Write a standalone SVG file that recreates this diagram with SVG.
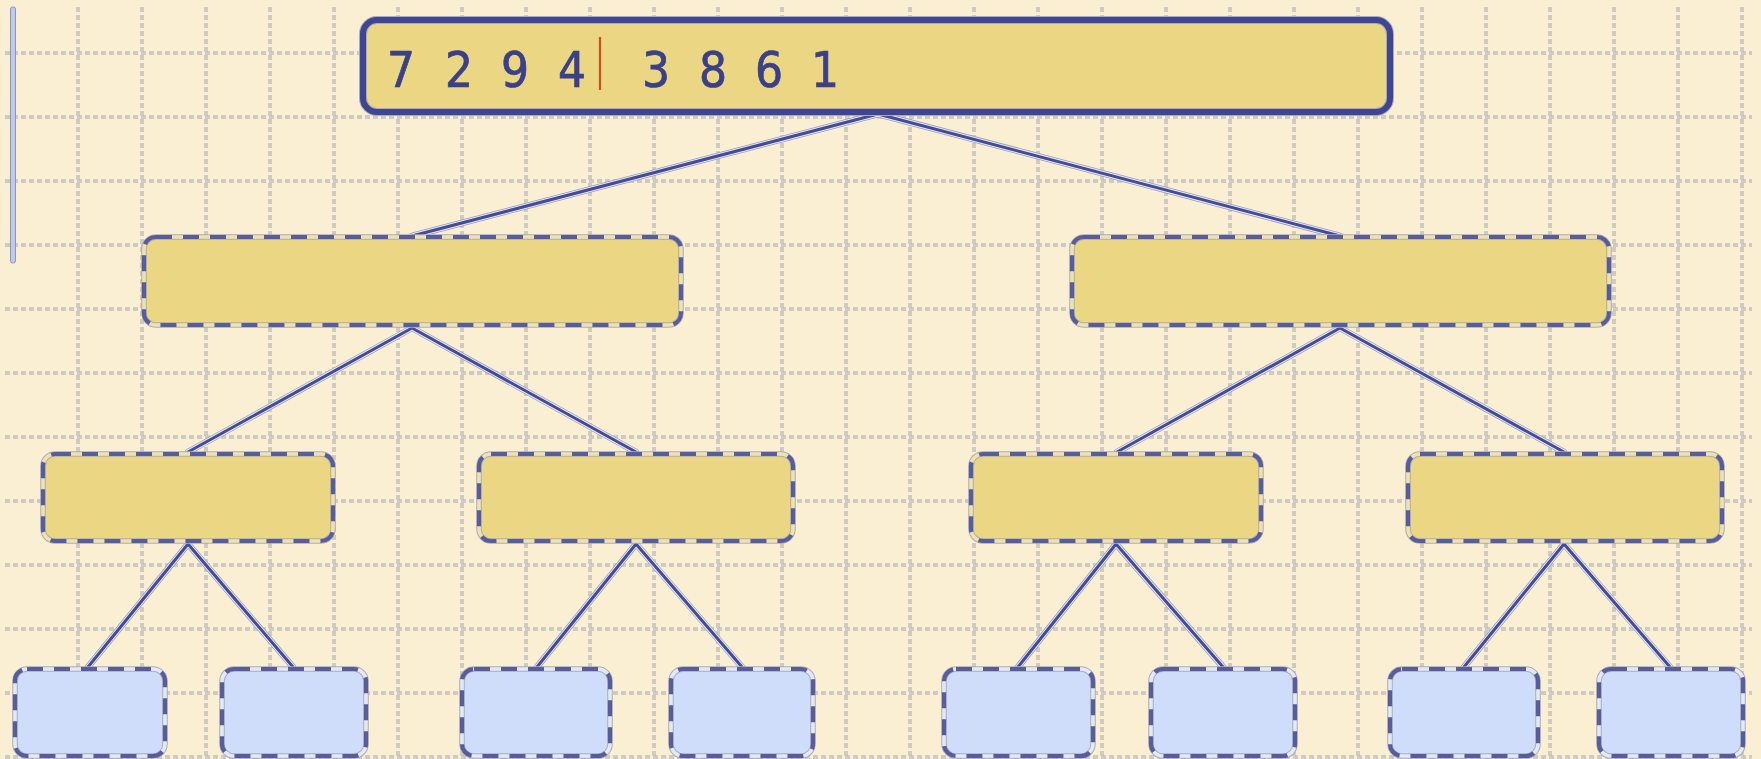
<svg xmlns="http://www.w3.org/2000/svg" width="1761" height="759" viewBox="0 0 1761 759">
<defs>
<style>
.gv{stroke:#a8a8a8;stroke-width:3;stroke-dasharray:5 3;fill:none}
.gi{stroke:#f2ede4;stroke-width:1;stroke-dasharray:5 3;fill:none}
.h1{stroke:#9a9cbc;stroke-width:6.5;fill:none;stroke-linecap:round}
.h2{stroke:#e4e8f8;stroke-width:5;fill:none;stroke-linecap:round}
.edge{stroke:#454b94;stroke-width:3;fill:none;stroke-linecap:round}
.nb1{stroke:#acacb6;stroke-width:5.5;fill:none}
.ny{stroke:#efe2ae;stroke-width:3.5;fill:none}
.nbb{stroke:#e2e9fb;stroke-width:3.5;fill:none}
.nd{stroke:#575c9c;stroke-width:4.2;stroke-dasharray:16 11;fill:none}
.y{fill:#ead683}
.b{fill:#cfdcfa}
.dig{font-family:"DejaVu Sans Condensed","DejaVu Sans",sans-serif;font-size:49px;fill:#3b4089;stroke:#3b4089;stroke-width:0.7;text-anchor:middle}
</style>
</defs>
<rect width="1761" height="759" fill="#faefd2"/>
<g id="grid">
<g class="gv">
<path d="M78 7V759M142 7V759M206 7V759M270 7V759M334 7V759M398 7V759M462 7V759M526 7V759M590 7V759M654 7V759M718 7V759M782 7V759M846 7V759M910 7V759M974 7V759M1038 7V759M1102 7V759M1166 7V759M1230 7V759M1294 7V759M1358 7V759M1422 7V759M1486 7V759M1550 7V759M1614 7V759M1678 7V759M1742 7V759"/>
<path d="M5 53H1752M5 117H1752M5 181H1752M5 245H1752M5 309H1752M5 373H1752M5 437H1752M5 501H1752M5 565H1752M5 629H1752M5 693H1752M5 757H1752"/>
</g>
<g class="gi">
<path d="M78 7V759M142 7V759M206 7V759M270 7V759M334 7V759M398 7V759M462 7V759M526 7V759M590 7V759M654 7V759M718 7V759M782 7V759M846 7V759M910 7V759M974 7V759M1038 7V759M1102 7V759M1166 7V759M1230 7V759M1294 7V759M1358 7V759M1422 7V759M1486 7V759M1550 7V759M1614 7V759M1678 7V759M1742 7V759"/>
<path d="M5 53H1752M5 117H1752M5 181H1752M5 245H1752M5 309H1752M5 373H1752M5 437H1752M5 501H1752M5 565H1752M5 629H1752M5 693H1752M5 757H1752"/>
</g>
<rect x="10.5" y="7" width="5" height="256" rx="2" fill="#bccaf4" stroke="#9094b0" stroke-width="1"/>
</g>
<g id="connectors">
<path class="h1" d="M878 114L412 236M878 114L1340 236M412 328L188 452M412 328L636 452M1340 328L1117 452M1340 328L1564 452M188 544L88 667M188 544L293 667M636 544L537 667M636 544L742 667M1116 544L1018 667M1116 544L1223 667M1564 544L1464 667M1564 544L1670 667"/>
<path class="h2" d="M878 114L412 236M878 114L1340 236M412 328L188 452M412 328L636 452M1340 328L1117 452M1340 328L1564 452M188 544L88 667M188 544L293 667M636 544L537 667M636 544L742 667M1116 544L1018 667M1116 544L1223 667M1564 544L1464 667M1564 544L1670 667"/>
<path class="edge" d="M878 114L412 236M878 114L1340 236M412 328L188 452M412 328L636 452M1340 328L1117 452M1340 328L1564 452M188 544L88 667M188 544L293 667M636 544L537 667M636 544L742 667M1116 544L1018 667M1116 544L1223 667M1564 544L1464 667M1564 544L1670 667"/>
</g>
<g id="root">
<rect x="363" y="20" width="1027" height="92" rx="14" class="y" stroke="#a8a8c0" stroke-width="8"/>
<rect x="363" y="20" width="1027" height="92" rx="14" fill="none" stroke="#3f4590" stroke-width="6"/>
<text class="dig" x="401" y="87">7</text>
<text class="dig" x="459" y="87">2</text>
<text class="dig" x="515" y="87">9</text>
<text class="dig" x="572" y="87">4</text>
<line x1="600" y1="37" x2="600" y2="90" stroke="#c8501e" stroke-width="2.2"/>
<text class="dig" x="656" y="87">3</text>
<text class="dig" x="713" y="87">8</text>
<text class="dig" x="769" y="87">6</text>
<text class="dig" x="825" y="87">1</text>
</g>
<g id="l1a"><rect x="144" y="237" width="537" height="88" rx="12" class="y"/><rect x="144" y="237" width="537" height="88" rx="12" class="nb1"/><rect x="144" y="237" width="537" height="88" rx="12" class="ny"/><rect x="144" y="237" width="537" height="88" rx="12" class="nd"/></g>
<g id="l1b"><rect x="1072" y="237" width="537" height="88" rx="12" class="y"/><rect x="1072" y="237" width="537" height="88" rx="12" class="nb1"/><rect x="1072" y="237" width="537" height="88" rx="12" class="ny"/><rect x="1072" y="237" width="537" height="88" rx="12" class="nd"/></g>
<g id="l2a"><rect x="43" y="454" width="290" height="87" rx="12" class="y"/><rect x="43" y="454" width="290" height="87" rx="12" class="nb1"/><rect x="43" y="454" width="290" height="87" rx="12" class="ny"/><rect x="43" y="454" width="290" height="87" rx="12" class="nd"/></g>
<g id="l2b"><rect x="479" y="454" width="314" height="87" rx="12" class="y"/><rect x="479" y="454" width="314" height="87" rx="12" class="nb1"/><rect x="479" y="454" width="314" height="87" rx="12" class="ny"/><rect x="479" y="454" width="314" height="87" rx="12" class="nd"/></g>
<g id="l2c"><rect x="971" y="454" width="290" height="87" rx="12" class="y"/><rect x="971" y="454" width="290" height="87" rx="12" class="nb1"/><rect x="971" y="454" width="290" height="87" rx="12" class="ny"/><rect x="971" y="454" width="290" height="87" rx="12" class="nd"/></g>
<g id="l2d"><rect x="1408" y="454" width="314" height="87" rx="12" class="y"/><rect x="1408" y="454" width="314" height="87" rx="12" class="nb1"/><rect x="1408" y="454" width="314" height="87" rx="12" class="ny"/><rect x="1408" y="454" width="314" height="87" rx="12" class="nd"/></g>
<g id="leaf1"><rect x="15" y="669" width="150" height="87" rx="12" class="b"/><rect x="15" y="669" width="150" height="87" rx="12" class="nb1"/><rect x="15" y="669" width="150" height="87" rx="12" class="nbb"/><rect x="15" y="669" width="150" height="87" rx="12" class="nd"/></g>
<g id="leaf2"><rect x="222" y="669" width="144" height="87" rx="12" class="b"/><rect x="222" y="669" width="144" height="87" rx="12" class="nb1"/><rect x="222" y="669" width="144" height="87" rx="12" class="nbb"/><rect x="222" y="669" width="144" height="87" rx="12" class="nd"/></g>
<g id="leaf3"><rect x="462" y="669" width="148" height="87" rx="12" class="b"/><rect x="462" y="669" width="148" height="87" rx="12" class="nb1"/><rect x="462" y="669" width="148" height="87" rx="12" class="nbb"/><rect x="462" y="669" width="148" height="87" rx="12" class="nd"/></g>
<g id="leaf4"><rect x="671" y="669" width="142" height="87" rx="12" class="b"/><rect x="671" y="669" width="142" height="87" rx="12" class="nb1"/><rect x="671" y="669" width="142" height="87" rx="12" class="nbb"/><rect x="671" y="669" width="142" height="87" rx="12" class="nd"/></g>
<g id="leaf5"><rect x="944" y="669" width="149" height="87" rx="12" class="b"/><rect x="944" y="669" width="149" height="87" rx="12" class="nb1"/><rect x="944" y="669" width="149" height="87" rx="12" class="nbb"/><rect x="944" y="669" width="149" height="87" rx="12" class="nd"/></g>
<g id="leaf6"><rect x="1151" y="669" width="144" height="87" rx="12" class="b"/><rect x="1151" y="669" width="144" height="87" rx="12" class="nb1"/><rect x="1151" y="669" width="144" height="87" rx="12" class="nbb"/><rect x="1151" y="669" width="144" height="87" rx="12" class="nd"/></g>
<g id="leaf7"><rect x="1390" y="669" width="148" height="87" rx="12" class="b"/><rect x="1390" y="669" width="148" height="87" rx="12" class="nb1"/><rect x="1390" y="669" width="148" height="87" rx="12" class="nbb"/><rect x="1390" y="669" width="148" height="87" rx="12" class="nd"/></g>
<g id="leaf8"><rect x="1599" y="669" width="144" height="87" rx="12" class="b"/><rect x="1599" y="669" width="144" height="87" rx="12" class="nb1"/><rect x="1599" y="669" width="144" height="87" rx="12" class="nbb"/><rect x="1599" y="669" width="144" height="87" rx="12" class="nd"/></g>
</svg>
